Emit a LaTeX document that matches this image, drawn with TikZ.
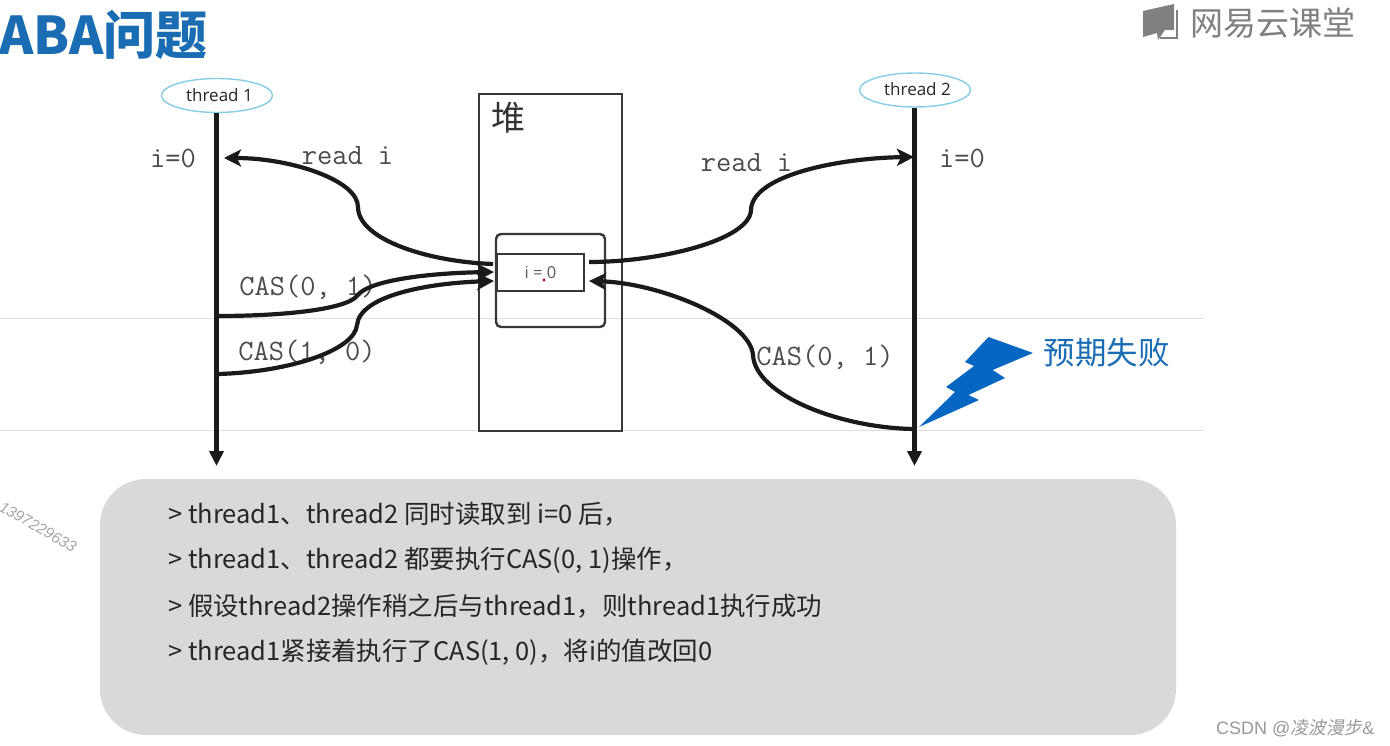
\documentclass[tikz,border=0pt]{standalone}
\usepackage{fontspec}
\usetikzlibrary{shapes.geometric,arrows.meta}
\setmainfont{Liberation Sans}
\newfontfamily\cjk{Noto Sans CJK SC}
\newfontfamily\cjkslant[FakeSlant=0.18]{Noto Sans CJK SC}
\newfontfamily\opens{Open Sans}
\newcommand{\fsz}[1]{\fontsize{#1}{#1}\selectfont}
\definecolor{titleblue}{HTML}{1A6DB3}
\definecolor{boltblue}{HTML}{0667C2}
\definecolor{gridgray}{HTML}{DEDEDE}
\definecolor{panelgray}{HTML}{D9D9D9}
\definecolor{ringblue}{HTML}{86CDE6}
\definecolor{logogray}{HTML}{808080}
\definecolor{inkdark}{HTML}{1A1A1A}
\tikzset{
  gridline/.style={draw=gridgray,line width=1.2pt},
  threadring/.style={ellipse,draw=ringblue,line width=1.4pt,fill=white,minimum width=111pt,minimum height=34pt,inner sep=0pt,font=\opens\fsz{17},text=black!85},
  lifeline/.style={draw=inkdark,line width=4.6pt,-{Triangle[length=15pt,width=14pt]}},
  flow/.style={draw=inkdark,line width=4.2pt,line cap=butt},
  flowtip/.style={flow,-{Stealth[length=17pt,width=17pt,inset=4pt]}},
  boxline/.style={draw=black!78,line width=2.4pt},
  monolabel/.style={font=\ttfamily\fsz{29.6},text=black!70,inner sep=0pt},
  note/.style={anchor=west,font=\cjk\fsz{25.45},text=black!85,inner sep=0pt},
}
\begin{document}
\begin{tikzpicture}[x=1pt,y=-1pt]
\useasboundingbox (0,0) rectangle (1390,746);
\fill[white] (0,0) rectangle (1390,746);

% title and logo
\node[anchor=west,inner sep=0pt,text=titleblue,font=\cjk\bfseries\fsz{52}] (title) at (-1,35) {ABA问题};
\fill[logogray] (1143,11) -- (1174,4) -- (1174,30) -- (1165,30) -- (1158,40) -- (1157,33) -- (1143,37) -- cycle;
\draw[logogray,line width=2pt] (1177,10) -- (1177,38) -- (1160,38);
\node[anchor=west,inner sep=0pt,text=logogray,font=\cjk\fsz{33}] (logo) at (1190,23) {网易云课堂};

% grey guide lines
\draw[gridline] (0,318.5) -- (1204,318.5);
\draw[gridline] (0,430.5) -- (1204,430.5);

% heap
\draw[boxline] (479,94) rectangle (622,431);
\node[inner sep=0pt,font=\cjk\fsz{34},text=black!80] (heaplabel) at (508,118) {堆};
\draw[boxline,rounded corners=5pt] (496,234) rectangle (605,327);
\node[draw=black!78,line width=2.4pt,fill=white,minimum width=87pt,minimum height=37pt,inner sep=0pt,font=\opens\fsz{16.5},text=black!65] (cell) at (540.5,272.5) {i = 0};
\fill[red!80!black] (544,280) circle (1.6pt);

% threads
\node[threadring] (t1) at (217,95.5) {\hspace*{5pt}\raisebox{1.5pt}{thread 1}};
\node[threadring] (t2) at (915,90) {\hspace*{5pt}\raisebox{1.5pt}{thread 2}};
\coordinate (t1end) at (216.5,466);
\coordinate (t2end) at (914.5,466);
\draw[lifeline] (t1.south -| t1end) -- (t1end);
\draw[lifeline] (t2.south -| t2end) -- (t2end);

% labels under the curves
\node[monolabel] (i1) at (173,158) {i=0};
\node[monolabel] (i2) at (962,158) {i=0};
\node[monolabel] (r1) at (347.5,156) {read i};
\node[monolabel] (r2) at (746.5,163) {read i};
\node[monolabel] (c1) at (308,287) {CAS(0, 1)};
\node[monolabel] (c2) at (307,352) {CAS(1, 0)};
\node[monolabel] (c3) at (825,357) {CAS(0, 1)};

% connector ends
\coordinate (a1) at (493,264);
\coordinate (a2) at (224,158);
\coordinate (b1) at (218,316);
\coordinate (b2) at (494,272);
\coordinate (d1) at (218,374);
\coordinate (d2) at (494,281);
\coordinate (e1) at (589,262);
\coordinate (e2) at (914,157);
\coordinate (f1) at (914,429);
\coordinate (f2) at (589,281);

\draw[flowtip] (a1) .. controls (430,262) and (358,240) .. (358,207) .. controls (358,180) and (290,158) .. (a2);
\draw[flowtip] (b1) .. controls (280,316) and (345,310) .. (357,296) .. controls (368,280) and (430,273) .. (b2);
\draw[flowtip] (d1) .. controls (290,372) and (355,350) .. (357,325) .. controls (360,295) and (430,283) .. (d2);
\draw[flowtip] (e1) .. controls (660,262) and (750,240) .. (751,210) .. controls (752,175) and (840,158) .. (e2);
\draw[flowtip] (f1) .. controls (840,428) and (755,395) .. (753,355) .. controls (750,320) and (660,283) .. (f2);

% lightning
\fill[boltblue] (919,427) -- (955,392) -- (946,387) -- (974,366) -- (965,362) -- (988.5,337) -- (1033,353) -- (992.6,370) -- (1005,378) -- (968.5,395) -- (979,400) -- cycle;
\node[anchor=west,inner sep=0pt,text=titleblue,font=\cjk\fsz{31.5}] (fail) at (1043.5,353) {预期失败};

% note panel
\fill[panelgray,rounded corners=46pt] (100,479) rectangle (1176,735);
\node[note] (n1) at (168,514.5) {> thread1、thread2 同时读取到 i=0 后，};
\node[note] (n2) at (168,560.5) {> thread1、thread2 都要执行CAS(0, 1)操作，};
\node[note] (n3) at (168,606.5) {> 假设thread2操作稍之后与thread1，则thread1执行成功};
\node[note] (n4) at (168,652.5) {> thread1紧接着执行了CAS(1, 0)，将i的值改回0};

% watermarks
\node[rotate=-30,inner sep=0pt,text=black!35,font=\itshape\fsz{15.5}] (wm) at (38,527) {1397229633};
\node[anchor=west,inner sep=0pt,text=black!40,font=\fsz{18}] (csdn) at (1216,728) {CSDN @{\cjkslant 凌波漫步}\&};
\end{tikzpicture}
\end{document}
